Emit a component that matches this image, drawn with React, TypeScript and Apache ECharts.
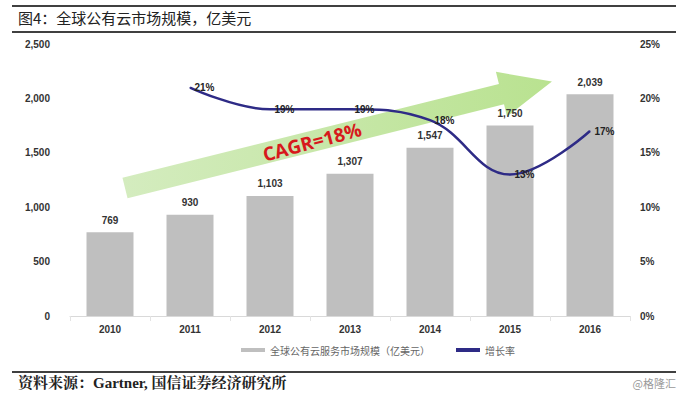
import React, { useEffect, useRef } from "react";
import * as echarts from "echarts";

const years = ["2010", "2011", "2012", "2013", "2014", "2015", "2016"];
const marketSize = [769, 930, 1103, 1307, 1547, 1750, 2039];
const growthRate: (number | string)[] = ["-", 21, 19, 19, 18, 13, 17];
const barName = "全球公有云服务市场规模（亿美元）";
const lineName = "增长率";
const titleText = "图4：全球公有云市场规模，亿美元";
const sourceText = "资料来源：Gartner, 国信证券经济研究所";
const watermark = "@格隆汇";
const cagrText = "CAGR=18%";

const numFont = '"Liberation Sans Narrow", "Liberation Sans", Arial, sans-serif';
const cjkFont = '"Noto Sans CJK SC", "Noto Sans", sans-serif';

function arrowPoints() {
  const sx = 125, sy = 188;
  const ang = (14 * Math.PI) / 180;
  const ux = Math.cos(ang), uy = -Math.sin(ang);
  const nx = Math.sin(ang), ny = Math.cos(ang);
  const L = 440, hb = 388, bw = 10.5, hw = 23;
  const p = (l: number, w: number) => [sx + ux * l + nx * w, sy + uy * l + ny * w];
  return [p(0, -bw), p(hb, -bw), p(hb, -hw), p(L, 0), p(hb, hw), p(hb, bw), p(0, bw)];
}

export default function App() {
  const ref = useRef<HTMLDivElement>(null);
  useEffect(() => {
    document.body.style.margin = "0";
    const chart = echarts.init(ref.current!, null, { renderer: "svg" });
    chart.setOption({
      animation: false,
      backgroundColor: "#ffffff",
      grid: { left: 70, right: 58, top: 44, bottom: 80 },
      legend: {
        left: 236,
        top: 340,
        itemGap: 26,
        textStyle: { fontFamily: cjkFont, fontSize: 10, color: "#666" },
        data: [
          { name: barName, icon: "rect", itemStyle: { color: "#bfbfbf" } },
          { name: lineName, icon: "rect", itemStyle: { color: "#2e2b86" } },
        ],
        itemWidth: 24,
        itemHeight: 4,
      },
      xAxis: {
        type: "category",
        data: years,
        axisLine: { lineStyle: { color: "#d9d9d9" } },
        axisTick: { show: true, lineStyle: { color: "#e3e3e3" } },
        axisLabel: {
          fontFamily: numFont,
          fontWeight: "bold",
          fontSize: 10,
          color: "#333",
          margin: 8,
        },
      },
      yAxis: [
        {
          type: "value",
          min: 0,
          max: 2500,
          interval: 500,
          splitLine: { show: false },
          axisLine: { show: false },
          axisTick: { show: false },
          axisLabel: {
            fontFamily: numFont,
            fontWeight: "bold",
            fontSize: 10,
            color: "#333",
            margin: 20,
            formatter: (v: number) => v.toLocaleString("en-US"),
          },
        },
        {
          type: "value",
          min: 0,
          max: 25,
          interval: 5,
          splitLine: { show: false },
          axisLine: { show: false },
          axisTick: { show: false },
          axisLabel: {
            fontFamily: numFont,
            fontWeight: "bold",
            fontSize: 10,
            color: "#333",
            margin: 10,
            formatter: "{value}%",
          },
        },
      ],
      graphic: [
        { type: "line", shape: { x1: 12, y1: 6, x2: 676, y2: 6 }, style: { stroke: "#000", lineWidth: 1.5 } },
        { type: "line", shape: { x1: 12, y1: 32, x2: 676, y2: 32 }, style: { stroke: "#000", lineWidth: 1.5 } },
        {
          type: "text",
          left: 18,
          top: 10,
          style: { text: titleText, font: `15px ${cjkFont}`, fill: "#222" },
        },
        {
          type: "polygon",
          z: -1,
          shape: { points: arrowPoints() },
          style: {
            fill: new echarts.graphic.LinearGradient(0, 0, 1, 0, [
              { offset: 0, color: "#d4ecbf" },
              { offset: 1, color: "#b9e290" },
            ]),
          },
        },
        {
          type: "text",
          x: 312,
          y: 142,
          rotation: (15 * Math.PI) / 180,
          style: {
            text: cagrText,
            font: `bold 19px ${'"Open Sans", "Liberation Sans", sans-serif'}`,
            fill: "#d7191c",
            align: "center",
            verticalAlign: "middle",
          },
        },
        { type: "line", shape: { x1: 12, y1: 372, x2: 676, y2: 372 }, style: { stroke: "#000", lineWidth: 1.5 } },
        {
          type: "text",
          left: 18,
          top: 375,
          style: {
            text: sourceText,
            font: `bold 15px "Liberation Serif", "Noto Serif CJK SC", "Noto Sans CJK SC", serif`,
            fill: "#222",
          },
        },
        {
          type: "text",
          right: 12,
          top: 377,
          style: { text: watermark, font: `11px ${cjkFont}`, fill: "#999" },
        },
      ],
      series: [
        {
          name: barName,
          type: "bar",
          data: marketSize,
          barWidth: 47,
          itemStyle: { color: "#bfbfbf" },
          label: {
            show: true,
            position: "top",
            distance: 7,
            fontFamily: numFont,
            fontWeight: "bold",
            fontSize: 10,
            color: "#333",
            formatter: (p: any) => Number(p.value).toLocaleString("en-US"),
          },
        },
        {
          name: lineName,
          type: "line",
          yAxisIndex: 1,
          data: growthRate,
          smooth: 0.4,
          symbol: "circle",
          symbolSize: 1,
          showSymbol: true,
          lineStyle: { color: "#2e2b86", width: 2.5 },
          itemStyle: { color: "#2e2b86" },
          label: {
            show: true,
            position: "right",
            distance: 4,
            fontFamily: numFont,
            fontWeight: "bold",
            fontSize: 10,
            color: "#222",
            formatter: "{c}%",
          },
          z: 3,
        },
      ],
    });
    return () => chart.dispose();
  }, []);
  return (
    <div
      ref={ref}
      style={{ position: "fixed", left: 0, top: 0, width: 688, height: 396 }}
    />
  );
}
